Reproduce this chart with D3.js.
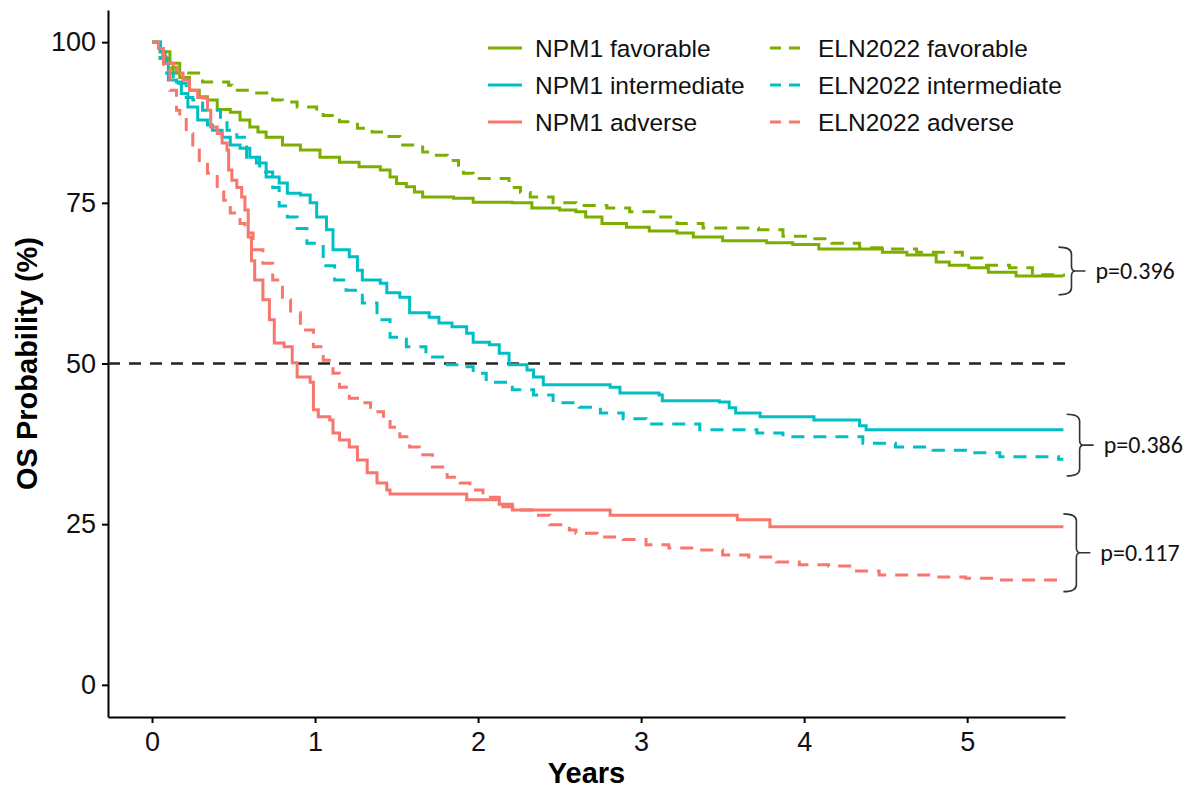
<!DOCTYPE html>
<html>
<head>
<meta charset="utf-8">
<script src="https://cdn.jsdelivr.net/npm/d3@7"></script>
<style>
  body { margin: 0; background: #fff; }
  svg { display: block; }
</style>
</head>
<body>
<div id="chart"></div>
<script>
// Kaplan-Meier step points: [years, OS %]
var npmFavorable = [[0,100],[0.05,98.5],[0.11,96.7],[0.17,94.5],[0.23,92.5],[0.29,91.5],[0.34,91],[0.40,89.5],[0.48,89.1],[0.54,87.9],[0.60,86.8],[0.65,86],[0.70,85.2],[0.80,84],[0.91,83.2],[1.03,82.1],[1.15,81.3],[1.27,80.6],[1.40,80.1],[1.46,79],[1.50,78],[1.56,77.5],[1.61,76.7],[1.66,75.9],[1.85,75.7],[1.97,75.1],[2.21,75],[2.33,74.2],[2.50,73.9],[2.60,73.6],[2.66,72.8],[2.76,71.8],[2.91,71.2],[3.05,70.6],[3.22,70.3],[3.32,69.7],[3.50,69.1],[3.77,68.8],[3.93,68.5],[4.09,67.8],[4.48,67.3],[4.63,66.9],[4.81,65.8],[4.89,65.3],[5.01,64.9],[5.13,64.2],[5.30,63.6],[5.59,63.5]];
var npmIntermediate = [[0,100],[0.05,98.5],[0.08,96.7],[0.10,94.1],[0.15,93.8],[0.18,92],[0.22,89.9],[0.28,87.9],[0.34,87.1],[0.37,86.3],[0.43,85.2],[0.48,84],[0.54,83.5],[0.60,82.1],[0.64,81.2],[0.70,79],[0.78,78.1],[0.83,76.5],[0.91,76.2],[0.97,75],[1.01,72.8],[1.07,70.8],[1.11,67.7],[1.21,66.6],[1.26,64.5],[1.29,63],[1.40,62.5],[1.44,61],[1.52,60.3],[1.58,57.9],[1.70,57.2],[1.76,56.3],[1.84,55.7],[1.93,54.7],[1.97,53.3],[2.07,52.9],[2.13,51.6],[2.19,49.8],[2.30,49],[2.34,47.9],[2.40,46.7],[2.81,46.3],[2.87,45.4],[3.11,45.1],[3.13,44.2],[3.48,44],[3.54,43.1],[3.58,42.3],[3.73,41.7],[4.06,41.2],[4.34,40.3],[4.38,39.7],[5.59,39.7]];
var npmAdverse = [[0,100],[0.04,99],[0.07,97.7],[0.09,96.7],[0.13,96.1],[0.15,95.2],[0.19,94.1],[0.23,92.5],[0.28,91.4],[0.31,91.3],[0.34,89.4],[0.36,86.8],[0.40,85.8],[0.43,84.3],[0.46,83.2],[0.47,80.1],[0.49,78.5],[0.52,77.4],[0.55,75.9],[0.57,73.9],[0.59,69.7],[0.61,66],[0.63,63],[0.68,59.9],[0.72,56.8],[0.75,53.2],[0.81,52.6],[0.86,50.1],[0.89,47.9],[0.97,47.1],[0.99,42.8],[1.02,41.7],[1.09,41.2],[1.11,39.2],[1.15,38.1],[1.21,37],[1.26,35],[1.32,33],[1.38,31.4],[1.44,30.3],[1.46,29.7],[1.93,28.8],[2.13,28.1],[2.21,27.2],[2.81,26.4],[3.59,25.7],[3.79,24.6],[5.59,24.6]];
var elnFavorable = [[0,100],[0.05,97.5],[0.10,96],[0.13,95.2],[0.31,93.8],[0.47,93.3],[0.49,92.5],[0.60,92.1],[0.74,91],[0.80,90.7],[0.89,89.9],[1.01,89.1],[1.05,88.6],[1.15,87.6],[1.26,86.6],[1.35,86],[1.42,85.3],[1.52,84],[1.66,82.9],[1.72,82.4],[1.81,81.6],[1.88,80.5],[1.91,79.6],[1.97,78.8],[2.19,77.4],[2.26,76.6],[2.32,75.9],[2.46,75],[2.60,74.6],[2.79,74.2],[2.93,73.6],[3.09,72.8],[3.22,71.8],[3.38,71.1],[3.72,70.8],[3.87,69.8],[4.03,69.4],[4.17,68.7],[4.34,68],[4.52,67.8],[4.69,67.3],[4.97,66.4],[5.09,65.3],[5.26,64.9],[5.40,63.8],[5.59,63.6]];
var elnIntermediate = [[0,100],[0.05,97.5],[0.09,95.2],[0.13,93.6],[0.21,91.4],[0.25,91],[0.31,89.4],[0.42,87.9],[0.46,86.3],[0.52,85.2],[0.58,82.1],[0.66,79.8],[0.74,77.4],[0.78,74.5],[0.83,72.8],[0.89,71],[0.95,68.7],[1.05,65.2],[1.12,63],[1.19,61.4],[1.29,59.4],[1.38,56.8],[1.46,54.1],[1.56,52.6],[1.68,51],[1.81,49.8],[1.89,49.5],[1.97,48.5],[2.05,47.1],[2.21,45.9],[2.34,45.1],[2.46,43.9],[2.62,43.2],[2.75,42.3],[2.89,41.4],[3.03,40.6],[3.36,39.7],[3.71,39.2],[3.87,38.6],[4.36,37.6],[4.56,37],[4.79,36.5],[4.99,36.1],[5.20,35.5],[5.56,35.1],[5.59,35.1]];
var elnAdverse = [[0,100],[0.04,98],[0.07,95.6],[0.11,92.5],[0.15,89.4],[0.17,88.3],[0.21,85.8],[0.25,83.2],[0.29,81.6],[0.34,79.6],[0.40,77],[0.44,75.4],[0.48,73.4],[0.54,71.8],[0.57,70.3],[0.62,67.7],[0.68,65.6],[0.74,63],[0.80,59.9],[0.85,57.9],[0.91,55.2],[0.99,52.6],[1.05,50.5],[1.11,48.5],[1.15,46.3],[1.21,44.6],[1.27,43.9],[1.34,42.5],[1.42,41.2],[1.46,40.1],[1.52,38.6],[1.58,37],[1.64,35.8],[1.72,33.9],[1.81,32.3],[1.89,31.4],[1.95,30.3],[2.03,29.2],[2.13,27.7],[2.25,27.2],[2.34,26.4],[2.44,24.9],[2.56,24.1],[2.60,23.6],[2.73,23],[2.89,22.6],[3.03,21.8],[3.17,21.3],[3.34,21],[3.50,20.2],[3.66,19.9],[3.83,19.1],[3.97,18.7],[4.15,18.5],[4.30,17.7],[4.46,17.1],[4.79,16.8],[4.99,16.6],[5.20,16.3],[5.59,16.3]];

var seriesNames = ['NPM1 favorable', 'NPM1 intermediate', 'NPM1 adverse',
                   'ELN2022 favorable', 'ELN2022 intermediate', 'ELN2022 adverse'];
var seriesData = [npmFavorable, npmIntermediate, npmAdverse, elnFavorable, elnIntermediate, elnAdverse];
var riskColors = ['#7CAE00', '#00BFC4', '#F8766D'];

var xTicks = [0, 1, 2, 3, 4, 5];
var yTicks = [0, 25, 50, 75, 100];
var medianLine = 50;

// p-values for NPM1 vs ELN2022 by risk group, brace span in OS %
var pLabels = ['p=0.396', 'p=0.386', 'p=0.117'];
var braceSpans = [[68.1, 60.7], [42.1, 32.5], [26.6, 14.5]];
var braceX = [5.56, 5.61, 5.59];

var width = 1197,
    height = 792,
    margin = {top: 10, right: 132, bottom: 75, left: 108};

var svg = d3.select('#chart')
  .append('svg')
  .attr('width', width)
  .attr('height', height)
  .style('font-family', '"Liberation Sans", Arial, Helvetica, sans-serif');

var x = d3.scaleLinear()
  .domain([-0.27, 5.6])
  .range([margin.left, width - margin.right]);

var y = d3.scaleLinear()
  .domain([-5, 105])
  .range([height - margin.bottom, margin.top]);

svg.append('clipPath')
  .attr('id', 'panel')
  .append('rect')
  .attr('x', margin.left)
  .attr('y', margin.top)
  .attr('width', width - margin.right - margin.left)
  .attr('height', height - margin.bottom - margin.top);

// axes
var xAxis = svg.append('g')
  .attr('transform', 'translate(0,' + (height - margin.bottom) + ')')
  .call(d3.axisBottom(x).tickValues(xTicks).tickFormat(d3.format('d'))
    .tickSize(6).tickPadding(9).tickSizeOuter(0));

var yAxis = svg.append('g')
  .attr('transform', 'translate(' + margin.left + ',0)')
  .call(d3.axisLeft(y).tickValues(yTicks).tickFormat(d3.format('d'))
    .tickSize(6).tickPadding(6).tickSizeOuter(0));

[xAxis, yAxis].forEach(function(ax) {
  ax.select('.domain').attr('stroke', '#000').attr('stroke-width', 2);
  ax.selectAll('.tick line').attr('stroke', '#000').attr('stroke-width', 2);
  ax.selectAll('.tick text')
    .attr('fill', '#111')
    .style('font-size', '27px')
    .style('font-family', '"Liberation Sans", Arial, sans-serif');
});

svg.append('text')
  .attr('x', (margin.left + width - margin.right) / 2)
  .attr('y', 783)
  .attr('text-anchor', 'middle')
  .style('font-size', '29px')
  .style('font-weight', 'bold')
  .text('Years');

svg.append('text')
  .attr('transform', 'translate(37,' + y(50) + ') rotate(-90)')
  .attr('text-anchor', 'middle')
  .style('font-size', '29px')
  .style('font-weight', 'bold')
  .text('OS Probability (%)');

// median reference line
svg.append('line')
  .attr('x1', margin.left)
  .attr('x2', width - margin.right)
  .attr('y1', y(medianLine))
  .attr('y2', y(medianLine))
  .attr('stroke', '#222')
  .attr('stroke-width', 2.5)
  .attr('stroke-dasharray', '12,9');

// survival curves
var km = d3.line()
  .x(function(d) { return x(d[0]); })
  .y(function(d) { return y(d[1]); })
  .curve(d3.curveStepAfter);

svg.append('g')
  .attr('clip-path', 'url(#panel)')
  .selectAll('path')
  .data(seriesData)
  .enter()
  .append('path')
  .attr('d', km)
  .attr('fill', 'none')
  .attr('stroke', function(d, i) { return riskColors[i % 3]; })
  .attr('stroke-width', 3)
  .attr('stroke-dasharray', function(d, i) { return i < 3 ? null : '13,9'; });

// legend, two columns
var legend = svg.append('g');
seriesNames.forEach(function(name, i) {
  var col = Math.floor(i / 3),
      row = i % 3,
      lx = col === 0 ? 488 : 770,
      ly = 48 + row * 37;
  legend.append('line')
    .attr('x1', lx)
    .attr('x2', lx + 34)
    .attr('y1', ly)
    .attr('y2', ly)
    .attr('stroke', riskColors[row])
    .attr('stroke-width', 3)
    .attr('stroke-dasharray', col === 0 ? null : '11,8');
  legend.append('text')
    .attr('x', lx + (col === 0 ? 47 : 48))
    .attr('y', ly + 9)
    .style('font-size', '24.5px')
    .attr('fill', '#111')
    .text(name);
});

// braces with p-values
braceSpans.forEach(function(span, i) {
  var x0 = x(braceX[i]),
      top = y(span[0]),
      bot = y(span[1]),
      mid = (top + bot) / 2,
      xv = x0 + 13;
  svg.append('path')
    .attr('d', 'M' + x0 + ',' + top +
      'Q' + xv + ',' + top + ' ' + xv + ',' + (top + 7) +
      'L' + xv + ',' + (mid - 5) +
      'Q' + xv + ',' + mid + ' ' + (xv + 4) + ',' + mid +
      'Q' + xv + ',' + mid + ' ' + xv + ',' + (mid + 5) +
      'L' + xv + ',' + (bot - 7) +
      'Q' + xv + ',' + bot + ' ' + x0 + ',' + bot +
      'M' + (xv + 4) + ',' + mid + 'H' + (xv + 14))
    .attr('fill', 'none')
    .attr('stroke', '#333')
    .attr('stroke-width', 1.6);
  svg.append('text')
    .attr('x', x0 + 37)
    .attr('y', mid + 8)
    .style('font-family', 'Carlito, Calibri, "Noto Sans", sans-serif')
    .style('font-size', '24px')
    .attr('fill', '#111')
    .text(pLabels[i]);
});
</script>
</body>
</html>
